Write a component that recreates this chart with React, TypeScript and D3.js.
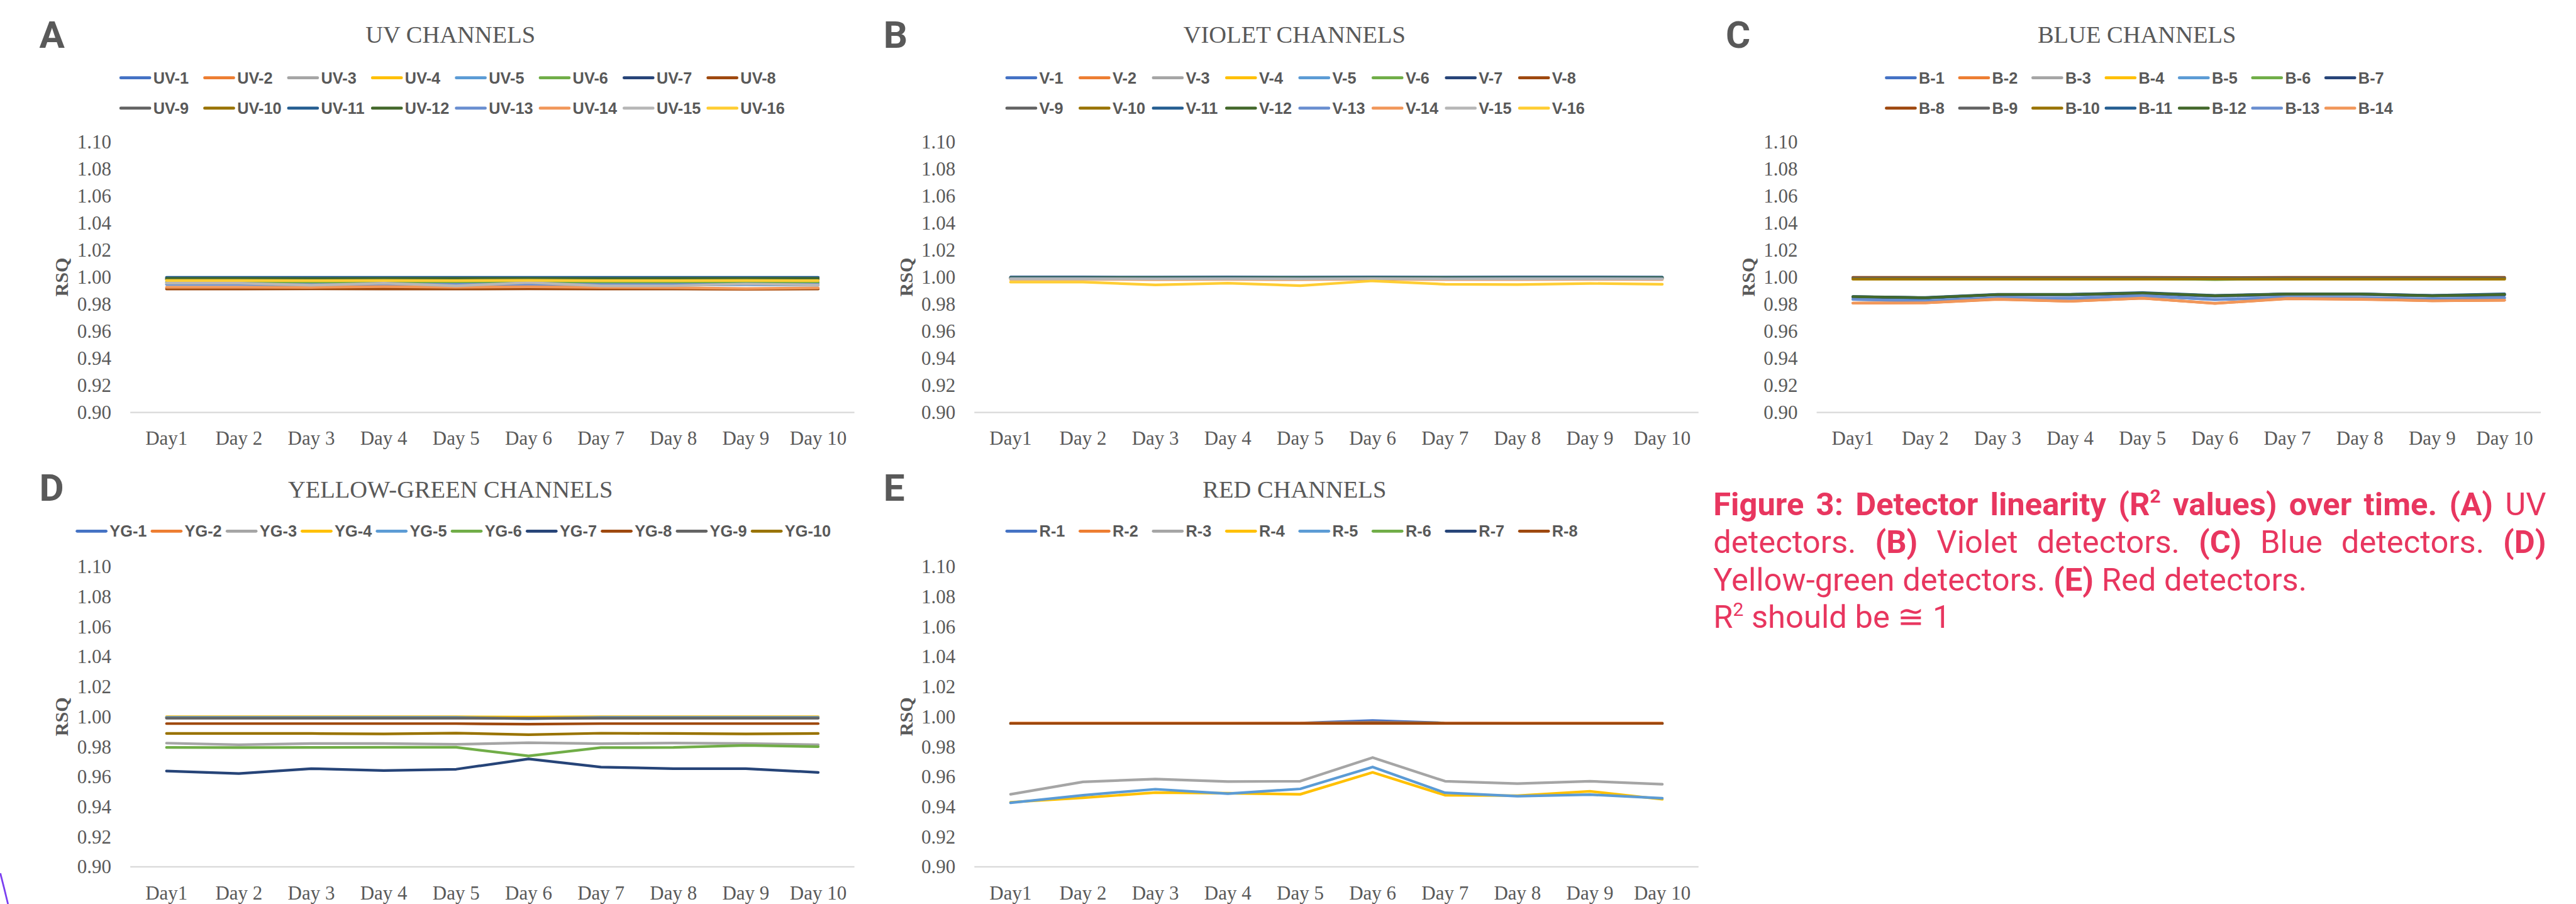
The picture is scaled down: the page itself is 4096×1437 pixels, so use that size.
import { useEffect, useRef } from "react";
import * as d3 from "d3";

const days = ["Day1", "Day 2", "Day 3", "Day 4", "Day 5", "Day 6", "Day 7", "Day 8", "Day 9", "Day 10"];
const rsqTicks = [0.9, 0.92, 0.94, 0.96, 0.98, 1.0, 1.02, 1.04, 1.06, 1.08, 1.1];

// office palette, series 1..16
const seriesColors = [
  "#4472C4", "#ED7D31", "#A5A5A5", "#FFC000", "#5B9BD5", "#70AD47", "#264478", "#9E480E",
  "#636363", "#997300", "#255E91", "#43682B", "#698ED0", "#F1975A", "#B7B7B7", "#FFCD33",
];

const uvNames = ["UV-1", "UV-2", "UV-3", "UV-4", "UV-5", "UV-6", "UV-7", "UV-8", "UV-9", "UV-10", "UV-11", "UV-12", "UV-13", "UV-14", "UV-15", "UV-16"];
const uvValues = [
  [0.999, 0.999, 0.9988, 0.999, 0.9989, 0.999, 0.9989, 0.999, 0.9988, 0.9989],
  [0.992, 0.9921, 0.9918, 0.9925, 0.992, 0.9921, 0.9918, 0.9916, 0.991, 0.9915],
  [0.9965, 0.9964, 0.9962, 0.9965, 0.9963, 0.9966, 0.9962, 0.9962, 0.9964, 0.9963],
  [0.9978, 0.9978, 0.9977, 0.9978, 0.9977, 0.9979, 0.9977, 0.9977, 0.9978, 0.9977],
  [0.9945, 0.9945, 0.994, 0.9942, 0.9944, 0.9942, 0.994, 0.9941, 0.9944, 0.994],
  [0.996, 0.996, 0.9955, 0.996, 0.9955, 0.9966, 0.9955, 0.9956, 0.996, 0.9959],
  [0.9996, 0.9996, 0.9995, 0.9996, 0.9996, 0.9996, 0.9995, 0.9996, 0.9996, 0.9996],
  [0.9912, 0.9912, 0.9913, 0.9912, 0.9912, 0.9913, 0.9912, 0.9912, 0.9911, 0.9912],
  [0.9985, 0.9985, 0.9984, 0.9985, 0.9985, 0.9985, 0.9984, 0.9985, 0.9985, 0.9985],
  [0.9983, 0.9983, 0.9982, 0.9983, 0.9983, 0.9983, 0.9982, 0.9983, 0.9983, 0.9983],
  [0.9998, 0.9998, 0.9998, 0.9998, 0.9998, 0.9998, 0.9998, 0.9998, 0.9998, 0.9998],
  [0.999, 0.999, 0.9989, 0.999, 0.999, 0.999, 0.9989, 0.999, 0.999, 0.999],
  [0.9948, 0.9947, 0.9945, 0.9947, 0.9946, 0.9948, 0.9945, 0.9945, 0.9947, 0.9946],
  [0.9925, 0.9925, 0.9924, 0.993, 0.9925, 0.9929, 0.9924, 0.9921, 0.9916, 0.992],
  [0.9955, 0.9955, 0.994, 0.9955, 0.9935, 0.996, 0.9935, 0.9936, 0.995, 0.9941],
  [0.9975, 0.9975, 0.9974, 0.9975, 0.9974, 0.9976, 0.9974, 0.9974, 0.9975, 0.9974],
];

const vNames = ["V-1", "V-2", "V-3", "V-4", "V-5", "V-6", "V-7", "V-8", "V-9", "V-10", "V-11", "V-12", "V-13", "V-14", "V-15", "V-16"];
const vValues = [
  [0.9998, 0.9998, 0.9997, 0.9998, 0.9997, 0.9998, 0.9997, 0.9998, 0.9998, 0.9997],
  [0.9992, 0.9992, 0.9991, 0.9992, 0.9991, 0.9993, 0.9991, 0.9992, 0.9992, 0.9991],
  [0.999, 0.999, 0.9989, 0.999, 0.9989, 0.9991, 0.9989, 0.999, 0.999, 0.9989],
  [0.9985, 0.9985, 0.9983, 0.9984, 0.9983, 0.9986, 0.9984, 0.9984, 0.9985, 0.9984],
  [0.9995, 0.9995, 0.9994, 0.9995, 0.9994, 0.9995, 0.9994, 0.9995, 0.9995, 0.9994],
  [0.9993, 0.9993, 0.9992, 0.9993, 0.9992, 0.9994, 0.9992, 0.9993, 0.9993, 0.9992],
  [0.9999, 0.9999, 0.9998, 0.9999, 0.9998, 0.9999, 0.9998, 0.9999, 0.9999, 0.9998],
  [0.9991, 0.9991, 0.999, 0.9991, 0.999, 0.9992, 0.999, 0.9991, 0.9991, 0.999],
  [0.9994, 0.9994, 0.9993, 0.9994, 0.9993, 0.9994, 0.9993, 0.9994, 0.9994, 0.9993],
  [0.9989, 0.9989, 0.9988, 0.9989, 0.9988, 0.999, 0.9988, 0.9989, 0.9989, 0.9988],
  [0.9999, 0.9999, 0.9999, 0.9999, 0.9999, 0.9999, 0.9999, 0.9999, 0.9999, 0.9999],
  [0.9995, 0.9995, 0.9995, 0.9995, 0.9995, 0.9995, 0.9995, 0.9995, 0.9995, 0.9995],
  [0.999, 0.999, 0.9989, 0.999, 0.9989, 0.999, 0.9989, 0.999, 0.999, 0.9989],
  [0.9983, 0.9983, 0.9982, 0.9983, 0.9982, 0.9984, 0.9982, 0.9982, 0.9983, 0.9982],
  [0.9987, 0.9987, 0.9986, 0.9987, 0.9986, 0.9988, 0.9986, 0.9987, 0.9987, 0.9986],
  [0.9963, 0.9963, 0.9942, 0.9955, 0.9937, 0.9972, 0.9947, 0.9945, 0.9953, 0.9947],
];

const bNames = ["B-1", "B-2", "B-3", "B-4", "B-5", "B-6", "B-7", "B-8", "B-9", "B-10", "B-11", "B-12", "B-13", "B-14"];
const bValues = [
  [0.985, 0.9843, 0.9868, 0.9866, 0.9878, 0.9858, 0.987, 0.987, 0.986, 0.9866],
  [0.9808, 0.981, 0.9836, 0.9822, 0.9843, 0.9806, 0.984, 0.9836, 0.9825, 0.9829],
  [0.999, 0.999, 0.9991, 0.999, 0.9991, 0.9989, 0.999, 0.999, 0.999, 0.999],
  [0.9985, 0.9985, 0.9986, 0.9985, 0.9986, 0.9984, 0.9985, 0.9985, 0.9985, 0.9985],
  [0.9836, 0.9824, 0.9846, 0.9842, 0.986, 0.9834, 0.9849, 0.9846, 0.9838, 0.9846],
  [0.999, 0.999, 0.999, 0.999, 0.999, 0.9982, 0.9988, 0.999, 0.999, 0.999],
  [0.9855, 0.9847, 0.9871, 0.9872, 0.9882, 0.9862, 0.9875, 0.9875, 0.9863, 0.9872],
  [0.9998, 0.9998, 0.9998, 0.9998, 0.9998, 0.9997, 0.9998, 0.9998, 0.9998, 0.9998],
  [0.9994, 0.9994, 0.9994, 0.9994, 0.9994, 0.9993, 0.9994, 0.9994, 0.9994, 0.9994],
  [0.9985, 0.9985, 0.9985, 0.9985, 0.9985, 0.9986, 0.9985, 0.9985, 0.9985, 0.9985],
  [0.9857, 0.9849, 0.9873, 0.9873, 0.9885, 0.9865, 0.9876, 0.9876, 0.9865, 0.9876],
  [0.9855, 0.9847, 0.9871, 0.9871, 0.9882, 0.9862, 0.9875, 0.9875, 0.9862, 0.9871],
  [0.9835, 0.9822, 0.9847, 0.9842, 0.9863, 0.9833, 0.985, 0.9847, 0.9838, 0.9847],
  [0.9808, 0.981, 0.9838, 0.9822, 0.9845, 0.9805, 0.9842, 0.9838, 0.9825, 0.983],
];

const ygNames = ["YG-1", "YG-2", "YG-3", "YG-4", "YG-5", "YG-6", "YG-7", "YG-8", "YG-9", "YG-10"];
const ygValues = [
  [0.9995, 0.9995, 0.9995, 0.9995, 0.9995, 0.9992, 0.9995, 0.9995, 0.9995, 0.9995],
  [0.9993, 0.9993, 0.9993, 0.9993, 0.9993, 0.999, 0.9993, 0.9993, 0.9993, 0.9993],
  [0.9824, 0.9813, 0.9821, 0.9821, 0.9816, 0.9827, 0.982, 0.9825, 0.9821, 0.9813],
  [1.0, 1.0, 1.0, 1.0, 1.0, 0.9997, 1.0, 1.0, 1.0, 1.0],
  [0.9995, 0.9995, 0.9995, 0.9995, 0.9995, 0.9986, 0.9995, 0.9995, 0.9995, 0.9995],
  [0.9795, 0.9794, 0.9795, 0.9796, 0.9796, 0.9739, 0.9794, 0.9795, 0.9809, 0.98],
  [0.9638, 0.9621, 0.9654, 0.9641, 0.965, 0.9719, 0.9664, 0.9654, 0.9654, 0.9629],
  [0.9954, 0.9954, 0.9954, 0.9954, 0.9954, 0.995, 0.9954, 0.9954, 0.9954, 0.9954],
  [0.999, 0.999, 0.999, 0.999, 0.999, 0.9989, 0.999, 0.999, 0.999, 0.999],
  [0.9888, 0.9888, 0.9888, 0.9885, 0.9891, 0.988, 0.989, 0.9888, 0.9885, 0.9888],
];

const rNames = ["R-1", "R-2", "R-3", "R-4", "R-5", "R-6", "R-7", "R-8"];
const rValues = [
  [0.9955, 0.9955, 0.9955, 0.9955, 0.9958, 0.9974, 0.9958, 0.9955, 0.9955, 0.9955],
  [0.9958, 0.9958, 0.9958, 0.9958, 0.9958, 0.9962, 0.9958, 0.9958, 0.9958, 0.9958],
  [0.9483, 0.9566, 0.9585, 0.9568, 0.957, 0.9728, 0.957, 0.9554, 0.957, 0.955],
  [0.943, 0.946, 0.9494, 0.949, 0.9483, 0.9629, 0.9477, 0.9474, 0.9503, 0.945],
  [0.9426, 0.9477, 0.9517, 0.9487, 0.9519, 0.9665, 0.9493, 0.947, 0.9481, 0.9457],
  [0.9955, 0.9955, 0.9955, 0.9955, 0.9955, 0.9956, 0.9955, 0.9955, 0.9955, 0.9955],
  [0.9955, 0.9955, 0.9955, 0.9955, 0.9955, 0.9957, 0.9955, 0.9955, 0.9955, 0.9955],
  [0.9955, 0.9955, 0.9955, 0.9955, 0.9955, 0.9956, 0.9955, 0.9955, 0.9955, 0.9955],
];

const panels = [
  { letter: "A", title: "UV CHANNELS", names: uvNames, values: uvValues, dx: 0, row: 0, legendX: 202, legendStep: 142, legendCols: 8 },
  { letter: "B", title: "VIOLET CHANNELS", names: vNames, values: vValues, dx: 1429, row: 0, legendX: 1702, legendStep: 124, legendCols: 8 },
  { letter: "C", title: "BLUE CHANNELS", names: bNames, values: bValues, dx: 2855, row: 0, legendX: 3191, legendStep: 124, legendCols: 7 },
  { letter: "D", title: "YELLOW-GREEN CHANNELS", names: ygNames, values: ygValues, dx: 0, row: 1, legendX: 128, legendStep: 127, legendCols: 10 },
  { letter: "E", title: "RED CHANNELS", names: rNames, values: rValues, dx: 1429, row: 1, legendX: 1702, legendStep: 124, legendCols: 8 },
];

const rows = [
  { top: 240, bottom: 698, titleY: 72.7, letterY: 81, legendY: [131.7, 183] },
  { top: 959, bottom: 1467, titleY: 842, letterY: 848, legendY: [899] },
];

type Seg = { t: string; b?: boolean; sup?: boolean };
// caption, lines 1-2 justified word by word
const captionJustified: Seg[][][] = [
  [
    [{ t: "Figure", b: true }], [{ t: "3:", b: true }], [{ t: "Detector", b: true }], [{ t: "linearity", b: true }],
    [{ t: "(R", b: true }, { t: "2", b: true, sup: true }], [{ t: "values)", b: true }], [{ t: "over", b: true }],
    [{ t: "time.", b: true }], [{ t: "(A)", b: true }], [{ t: "UV" }],
  ],
  [
    [{ t: "detectors." }], [{ t: "(B)", b: true }], [{ t: "Violet" }], [{ t: "detectors." }], [{ t: "(C)", b: true }],
    [{ t: "Blue" }], [{ t: "detectors." }], [{ t: "(D)", b: true }],
  ],
];
const captionPlain: Seg[][] = [
  [{ t: "Yellow-green detectors. " }, { t: "(E)", b: true }, { t: " Red detectors." }],
  [{ t: "R" }, { t: "2", sup: true }, { t: " should be \u2245 1" }],
];
const CAP_X = 2900;
const CAP_W = 4310 - CAP_X;
const CAP_Y = [872, 936, 1000, 1063];
const CAP_SIZE = 54;
const CAP_COLOR = "#E8365F";

const TEXT = "#595959";
const SERIF = "'Liberation Serif', 'Times New Roman', serif";
const SANS = "'Liberation Sans', Arial, sans-serif";

const segs = (list: Seg[]) => {
  let shifted = false;
  return list.map((s, i) => {
    let dy: number | undefined;
    if (s.sup && !shifted) { dy = -21; shifted = true; }
    else if (!s.sup && shifted) { dy = 21; shifted = false; }
    return (
      <tspan key={i} dy={dy} fontWeight={s.b ? 700 : 400} fontSize={s.sup ? 32 : undefined}>
        {s.t}
      </tspan>
    );
  });
};

function Panel({ p }: { p: (typeof panels)[number] }) {
  const r = rows[p.row];
  const x = d3.scaleBand().domain(days).range([220 + p.dx, 1446 + p.dx]);
  const cx = (d: string) => (x(d) ?? 0) + x.bandwidth() / 2;
  const y = d3.scaleLinear().domain([0.9, 1.1]).range([r.bottom, r.top]);
  const line = d3
    .line<number>()
    .x((_, i) => cx(days[i]))
    .y((v) => y(v));
  const fmt = d3.format(".2f");
  const axisL = 220 + p.dx;
  const axisR = 1446 + p.dx;

  return (
    <g>
      <text x={66 + p.dx} y={r.letterY} fontFamily="Roboto, sans-serif" fontWeight={700} fontSize={64} fill={TEXT}>
        {p.letter}
      </text>
      <text x={762 + p.dx} y={r.titleY} textAnchor="middle" fontFamily={SERIF} fontSize={41} fill={TEXT}>
        {p.title}
      </text>

      {/* legend */}
      {p.names.map((n, i) => {
        const lx = p.legendX + (i % p.legendCols) * p.legendStep;
        const ly = r.legendY[Math.floor(i / p.legendCols)];
        return (
          <g key={n}>
            <line x1={lx + 2} x2={lx + 51} y1={ly} y2={ly} stroke={seriesColors[i]} strokeWidth={5} strokeLinecap="round" />
            <text x={lx + 57} y={ly} dy="0.36em" fontFamily={SANS} fontWeight={700} fontSize={27} fill={TEXT}>
              {n}
            </text>
          </g>
        );
      })}

      {/* y ticks */}
      {rsqTicks.map((t) => (
        <text key={t} x={axisL - 32} y={y(t)} dy="0.34em" textAnchor="end" fontFamily={SERIF} fontSize={33} fill={TEXT}>
          {fmt(t)}
        </text>
      ))}
      <text
        transform={`translate(${104 + p.dx},${(r.top + r.bottom) / 2}) rotate(-90)`}
        dy="0.34em"
        textAnchor="middle"
        fontFamily={SERIF}
        fontWeight={700}
        fontSize={32}
        fill={TEXT}
      >
        RSQ
      </text>

      {/* x axis */}
      <line x1={axisL} x2={axisR} y1={r.bottom} y2={r.bottom} stroke="#d9d9d9" strokeWidth={2.5} />
      {days.map((d) => (
        <text key={d} x={cx(d)} y={r.bottom + 44} dy="0.34em" textAnchor="middle" fontFamily={SERIF} fontSize={33} fill={TEXT}>
          {d}
        </text>
      ))}

      {/* series */}
      {p.values.map((vals, i) => (
        <path
          key={p.names[i]}
          d={line(vals) ?? ""}
          fill="none"
          stroke={seriesColors[i]}
          strokeWidth={4.5}
          strokeLinejoin="round"
          strokeLinecap="round"
        />
      ))}
    </g>
  );
}

export default function App() {
  const capRef = useRef<SVGGElement>(null);

  useEffect(() => {
    // justify the first two caption lines
    d3.select(capRef.current)
      .selectAll<SVGGElement, unknown>("g.justify")
      .each(function () {
        const words = d3.select(this).selectAll<SVGTextElement, unknown>("text").nodes();
        const widths = words.map((w) => w.getComputedTextLength());
        const gap = (CAP_W - d3.sum(widths)) / (words.length - 1);
        let xx = CAP_X;
        words.forEach((w, i) => {
          w.setAttribute("x", String(xx));
          xx += widths[i] + gap;
        });
      });
  }, []);

  return (
    <svg
      width={4096}
      height={1437}
      viewBox="0 0 4360 1530"
      style={{ position: "absolute", left: 0, top: 0, display: "block", background: "#fff" }}
    >
      {panels.map((p) => (
        <Panel key={p.letter} p={p} />
      ))}

      <g ref={capRef} fontFamily="Roboto, 'Noto Sans', sans-serif" fontSize={CAP_SIZE} fill={CAP_COLOR}>
        {captionJustified.map((ln, li) => (
          <g key={li} className="justify">
            {ln.map((w, wi) => (
              <text key={wi} x={CAP_X} y={CAP_Y[li]}>
                {segs(w)}
              </text>
            ))}
          </g>
        ))}
        {captionPlain.map((ln, li) => (
          <text key={li} x={CAP_X} y={CAP_Y[li + 2]} style={{ whiteSpace: "pre" }}>
            {segs(ln)}
          </text>
        ))}
      </g>

      {/* stray arc at the lower-left edge of the source figure */}
      <path d="M0,1478 Q7,1505 13,1530" fill="none" stroke="#7B3FF0" strokeWidth={3} />
    </svg>
  );
}
